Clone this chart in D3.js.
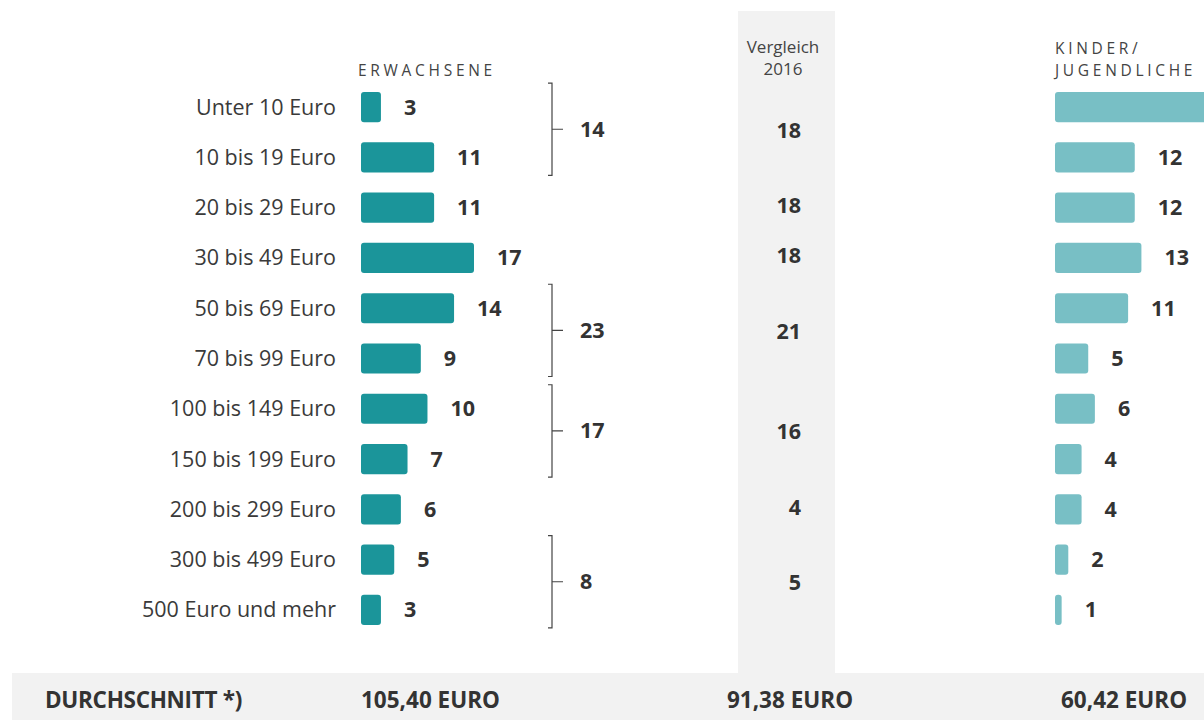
<!DOCTYPE html>
<html>
<head>
<meta charset="utf-8">
<script src="https://cdn.jsdelivr.net/npm/d3@7"></script>
<style>
  body { margin: 0; background: #fff; }
  svg { font-family: "Open Sans", "Segoe UI", sans-serif; }
</style>
</head>
<body>
<div id="chart"></div>
<script>
//********************* DATA ************************************

var categories = ["Unter 10 Euro", "10 bis 19 Euro", "20 bis 29 Euro", "30 bis 49 Euro",
  "50 bis 69 Euro", "70 bis 99 Euro", "100 bis 149 Euro", "150 bis 199 Euro",
  "200 bis 299 Euro", "300 bis 499 Euro", "500 Euro und mehr"];
var adults = [3, 11, 11, 17, 14, 9, 10, 7, 6, 5, 3];
var kids = [29, 12, 12, 13, 11, 5, 6, 4, 4, 2, 1];

// grouped sums of adults (first row, last row, value)
var groups = [[0, 1, 14], [4, 5, 23], [6, 7, 17], [9, 10, 8]];

// comparison 2016 (first row, last row, value)
var compare2016 = [[0, 1, 18], [2, 2, 18], [3, 3, 18], [4, 5, 21], [6, 7, 16], [8, 8, 4], [9, 10, 5]];

var averages = ["105,40 EURO", "91,38 EURO", "60,42 EURO"];

//********************* DIMENSIONS ************************************

var width = 1204, height = 720;
var adultX = 361, kidX = 1055, labelGap = 23;

var svg = d3.select("#chart").append("svg")
    .attr("width", width)
    .attr("height", height);

var y = d3.scaleBand()
    .domain(d3.range(categories.length))
    .range([82, 635])
    .paddingInner(0.4)
    .paddingOuter(0.2);

var x = d3.scaleLinear().domain([0, 17]).range([0, 113]);

var rowMid = function(i) { return y(i) + y.bandwidth() / 2; };

//grey comparison column & bottom band
svg.append("rect").attr("x", 738).attr("y", 11).attr("width", 97).attr("height", 662).attr("fill", "#f2f2f2");
svg.append("rect").attr("x", 12).attr("y", 673).attr("width", width - 12).attr("height", 47).attr("fill", "#f2f2f2");

//headers
var header = function(xp, yp, txt) {
  svg.append("text").attr("x", xp).attr("y", yp)
      .attr("font-size", 15.5).attr("letter-spacing", 3.7).attr("fill", "#444")
      .text(txt);
};
header(358, 76, "ERWACHSENE");
header(1055, 54, "KINDER/");
header(1055, 76, "JUGENDLICHE");

svg.append("text").attr("x", 783).attr("y", 53).attr("text-anchor", "middle")
    .attr("font-size", 17).attr("fill", "#444").text("Vergleich");
svg.append("text").attr("x", 783).attr("y", 75).attr("text-anchor", "middle")
    .attr("font-size", 17).attr("fill", "#444").text("2016");

//category labels
svg.selectAll(".cat")
    .data(categories)
  .enter().append("text")
    .attr("class", "cat")
    .attr("x", 336)
    .attr("y", function(d, i) { return rowMid(i); })
    .attr("dy", "0.35em")
    .attr("text-anchor", "end")
    .attr("font-size", 21.5)
    .attr("fill", "#3a3a3a")
    .text(function(d) { return d; });

//adult bars
svg.selectAll(".abar")
    .data(adults)
  .enter().append("rect")
    .attr("class", "abar")
    .attr("x", adultX)
    .attr("y", function(d, i) { return y(i); })
    .attr("width", function(d) { return x(d); })
    .attr("height", y.bandwidth())
    .attr("rx", 3)
    .attr("fill", "#1b959a");

svg.selectAll(".alab")
    .data(adults)
  .enter().append("text")
    .attr("class", "alab")
    .attr("x", function(d) { return adultX + x(d) + labelGap; })
    .attr("y", function(d, i) { return rowMid(i); })
    .attr("dy", "0.35em")
    .attr("font-size", 21.5).attr("font-weight", "bold").attr("fill", "#333")
    .text(function(d) { return d; });

//kid bars
svg.selectAll(".kbar")
    .data(kids)
  .enter().append("rect")
    .attr("class", "kbar")
    .attr("x", kidX)
    .attr("y", function(d, i) { return y(i); })
    .attr("width", function(d) { return x(d); })
    .attr("height", y.bandwidth())
    .attr("rx", 3)
    .attr("fill", "#78bfc5");

svg.selectAll(".klab")
    .data(kids)
  .enter().append("text")
    .attr("class", "klab")
    .attr("x", function(d) { return kidX + x(d) + labelGap; })
    .attr("y", function(d, i) { return rowMid(i); })
    .attr("dy", "0.35em")
    .attr("font-size", 21.5).attr("font-weight", "bold").attr("fill", "#333")
    .text(function(d) { return d; });

//brackets
var bx = 552;
groups.forEach(function(g) {
  var top = rowMid(g[0]) - 24, bot = rowMid(g[1]) + 18, mid = (top + bot) / 2;
  svg.append("path")
      .attr("d", "M" + (bx - 4) + "," + top + "H" + bx + "V" + bot + "H" + (bx - 4) +
                 "M" + bx + "," + mid + "H" + (bx + 11))
      .attr("fill", "none").attr("stroke", "#444").attr("stroke-width", 1.2);
  svg.append("text")
      .attr("x", 580).attr("y", mid).attr("dy", "0.35em")
      .attr("font-size", 21.5).attr("font-weight", "bold").attr("fill", "#333")
      .text(g[2]);
});

//comparison values
svg.selectAll(".cmp")
    .data(compare2016)
  .enter().append("text")
    .attr("class", "cmp")
    .attr("x", 801)
    .attr("y", function(d) { return (rowMid(d[0]) + rowMid(d[1])) / 2 - 2; })
    .attr("dy", "0.35em")
    .attr("text-anchor", "end")
    .attr("font-size", 21.5).attr("font-weight", "bold").attr("fill", "#333")
    .text(function(d) { return d[2]; });

//averages
svg.append("text").attr("x", 45).attr("y", 700).attr("dy", "0.35em")
    .attr("font-size", 22.5).attr("font-weight", "bold").attr("fill", "#333")
    .attr("letter-spacing", -0.3)
    .text("DURCHSCHNITT *)");

var avgX = [361, 790, 1061], avgAnchor = ["start", "middle", "start"];
svg.selectAll(".avg")
    .data(averages)
  .enter().append("text")
    .attr("class", "avg")
    .attr("x", function(d, i) { return avgX[i]; })
    .attr("y", 700).attr("dy", "0.35em")
    .attr("text-anchor", function(d, i) { return avgAnchor[i]; })
    .attr("font-size", 22.5).attr("font-weight", "bold").attr("fill", "#333")
    .text(function(d) { return d; });
</script>
</body>
</html>
